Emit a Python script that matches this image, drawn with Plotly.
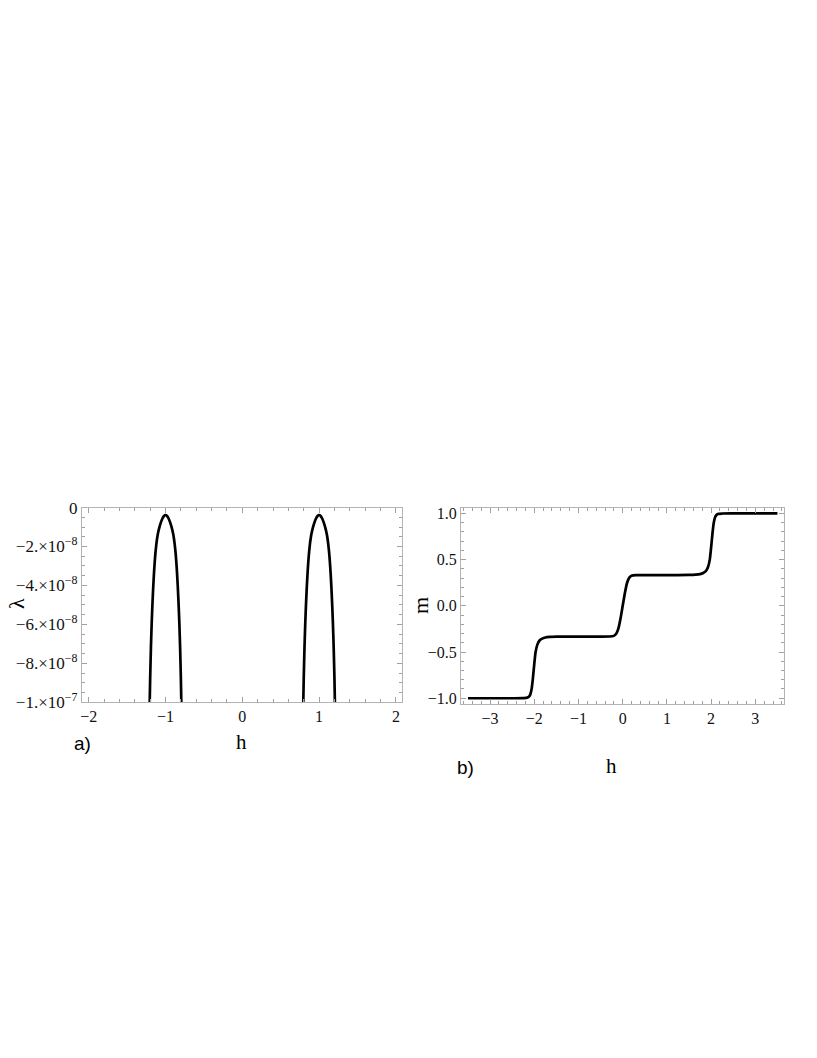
import plotly.graph_objects as go

# ---------------- data: panel a) ----------------
# left branch (around h = -1)
h_a_left = [-1.21, -1.20, -1.19, -1.18, -1.17, -1.16, -1.15, -1.14, -1.13, -1.12, -1.11, -1.10,
            -1.08, -1.06, -1.04, -1.02, -1.00, -0.98, -0.96, -0.94, -0.92,
            -0.90, -0.89, -0.88, -0.87, -0.86, -0.85, -0.84, -0.83, -0.82, -0.81, -0.80, -0.79]
lam_a_left = [-108.8e-9, -87.8e-9, -71.8e-9, -59.3e-9, -49.3e-9, -40.8e-9, -33.6e-9, -27.6e-9, -22.8e-9,
              -19.0e-9, -16.0e-9, -13.6e-9,
              -10.2e-9, -7.6e-9, -5.6e-9, -4.3e-9, -3.8e-9, -4.3e-9, -5.6e-9, -7.6e-9, -10.2e-9,
              -13.6e-9, -16.0e-9, -19.0e-9, -22.8e-9, -27.6e-9, -33.6e-9, -40.8e-9, -49.3e-9, -59.3e-9,
              -71.8e-9, -87.8e-9, -108.8e-9]
# right branch (around h = +1)
h_a_right = [0.79, 0.80, 0.81, 0.82, 0.83, 0.84, 0.85, 0.86, 0.87, 0.88, 0.89, 0.90,
             0.92, 0.94, 0.96, 0.98, 1.00, 1.02, 1.04, 1.06, 1.08,
             1.10, 1.11, 1.12, 1.13, 1.14, 1.15, 1.16, 1.17, 1.18, 1.19, 1.20, 1.21]
lam_a_right = [-108.8e-9, -87.8e-9, -71.8e-9, -59.3e-9, -49.3e-9, -40.8e-9, -33.6e-9, -27.6e-9, -22.8e-9,
               -19.0e-9, -16.0e-9, -13.6e-9,
               -10.2e-9, -7.6e-9, -5.6e-9, -4.3e-9, -3.8e-9, -4.3e-9, -5.6e-9, -7.6e-9, -10.2e-9,
               -13.6e-9, -16.0e-9, -19.0e-9, -22.8e-9, -27.6e-9, -33.6e-9, -40.8e-9, -49.3e-9, -59.3e-9,
               -71.8e-9, -87.8e-9, -108.8e-9]

a_xtick_vals = [-2, -1, 0, 1, 2]
a_xtick_text = ["\u22122", "\u22121", "0", "1", "2"]
a_ytick_vals = [0, -2e-8, -4e-8, -6e-8, -8e-8, -1e-7]
a_ytick_text = ["0", "\u22122.\u00d710<sup>\u22128</sup>", "\u22124.\u00d710<sup>\u22128</sup>",
                "\u22126.\u00d710<sup>\u22128</sup>", "\u22128.\u00d710<sup>\u22128</sup>",
                "\u22121.\u00d710<sup>\u22127</sup>"]

# ---------------- data: panel b) ----------------
h_b = [-3.5, -2.5, -2.25, -2.15, -2.10, -2.06, -2.03, -2.00, -1.97, -1.93, -1.88, -1.82, -1.75,
       -1.65, -1.5, -1.0, -0.5, -0.3, -0.2, -0.15, -0.10, -0.05, 0.0, 0.05, 0.10, 0.15, 0.2, 0.3,
       0.5, 1.0, 1.5, 1.65, 1.75, 1.82, 1.88, 1.93, 1.97, 2.00, 2.03, 2.06, 2.10, 2.15, 2.25, 2.5, 3.5]
m_b = [-1.0, -1.0, -0.999, -0.993, -0.97, -0.9, -0.78, -0.63, -0.5, -0.42, -0.375, -0.355, -0.343,
       -0.337, -0.334, -0.333, -0.333, -0.332, -0.325, -0.305, -0.25, -0.14, 0.0, 0.14, 0.25, 0.305, 0.325, 0.332,
       0.333, 0.333, 0.334, 0.337, 0.343, 0.355, 0.375, 0.42, 0.5, 0.63, 0.78, 0.9, 0.97, 0.993, 0.999, 1.0, 1.0]

b_xtick_vals = [-3, -2, -1, 0, 1, 2, 3]
b_xtick_text = ["\u22123", "\u22122", "\u22121", "0", "1", "2", "3"]
b_ytick_vals = [1.0, 0.5, 0.0, -0.5, -1.0]
b_ytick_text = ["1.0", "0.5", "0.0", "\u22120.5", "\u22121.0"]

# page body has an 8 px margin on every side: size the figure so the page fits the window
OFF = 8
W, H = 817 - 2 * OFF, 1058 - 2 * OFF
def px(x):
    return (x - OFF) / W
def py(y):
    return 1 - (y - OFF) / H

SERIF = "Liberation Serif"
SANS = "Liberation Sans"
FRAME = "#b4b4b4"
TICKC = "#a0a0a0"
LABC = "#111111"

fig = go.Figure()
line = dict(color="black", width=2.7, shape="spline", smoothing=0.5)
fig.add_trace(go.Scatter(x=h_a_left, y=lam_a_left, mode="lines", line=line, xaxis="x", yaxis="y",
                         showlegend=False, hoverinfo="skip"))
fig.add_trace(go.Scatter(x=h_a_right, y=lam_a_right, mode="lines", line=line, xaxis="x", yaxis="y",
                         showlegend=False, hoverinfo="skip"))
fig.add_trace(go.Scatter(x=h_b, y=m_b, mode="lines", line=dict(color="black", width=2.7, shape="spline", smoothing=0.6),
                         xaxis="x2", yaxis="y2", showlegend=False, hoverinfo="skip"))

common = dict(showline=True, linecolor=FRAME, linewidth=1, mirror="ticks", ticks="inside",
              ticklen=5, tickcolor=TICKC, tickwidth=1, showgrid=False, zeroline=False,
              tickfont=dict(family=SERIF, size=16, color=LABC))
common_ya = dict(common, tickfont=dict(family=SERIF, size=17, color=LABC))

fig.update_layout(
    width=W, height=H, margin=dict(l=0, r=0, t=0, b=0),
    paper_bgcolor="white", plot_bgcolor="white",
    xaxis=dict(domain=[px(80), px(401)], range=[-2.09, 2.08], anchor="y",
               tickvals=a_xtick_vals, ticktext=a_xtick_text,
               minor=dict(dtick=0.2, ticks="inside", ticklen=3, tickcolor=TICKC, showgrid=False), **common),
    yaxis=dict(domain=[py(706), py(507.7)], range=[-1e-7, 0], anchor="x",
               tickvals=a_ytick_vals, ticktext=a_ytick_text,
               minor=dict(dtick=0.5e-8, ticks="inside", ticklen=3, tickcolor=TICKC, showgrid=False), **common_ya),
    xaxis2=dict(domain=[px(460), px(784)], range=[-3.66, 3.65], anchor="y2",
                tickvals=b_xtick_vals, ticktext=b_xtick_text,
                minor=dict(dtick=0.2, ticks="inside", ticklen=3, tickcolor=TICKC, showgrid=False), **common),
    yaxis2=dict(domain=[py(708), py(508)], range=[-1.065, 1.06], anchor="x2",
                tickvals=b_ytick_vals, ticktext=b_ytick_text,
                minor=dict(dtick=0.1, ticks="inside", ticklen=3, tickcolor=TICKC, showgrid=False), **common),
)

ann = [
    dict(text="h", x=px(240), y=py(746), font=dict(family=SERIF, size=21, color="black")),
    dict(text="\u03bb", x=px(14), y=py(605), textangle=-90, font=dict(family=SERIF, size=22, color="black")),
    dict(text="a)", x=px(81), y=py(748), font=dict(family=SANS, size=19, color="black")),
    dict(text="h", x=px(611), y=py(771), font=dict(family=SERIF, size=21, color="black")),
    dict(text="m", x=px(419), y=py(607), textangle=-90, font=dict(family=SERIF, size=22, color="black")),
    dict(text="b)", x=px(465), y=py(772), font=dict(family=SANS, size=19, color="black")),
]
for a in ann:
    a.update(xref="paper", yref="paper", showarrow=False, xanchor="center", yanchor="middle")
    fig.add_annotation(**a)

fig.write_html("out.html")
